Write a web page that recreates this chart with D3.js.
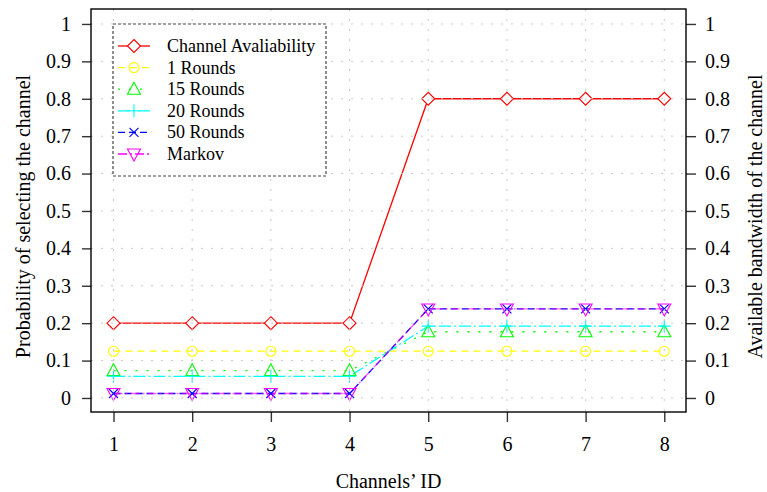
<!DOCTYPE html>
<html>
<head>
<meta charset="utf-8">
<script src="https://cdn.jsdelivr.net/npm/d3@7"></script>
<style>
  html, body { margin: 0; padding: 0; background: #fff; }
  svg, svg text { font-family: "Liberation Serif", "Times New Roman", Times, "DejaVu Serif", serif; }
  svg { display: block; }
</style>
</head>
<body>
<svg id="chart" width="767" height="492"></svg>
<script>
// Channel IDs on the x axis
const channels = [1, 2, 3, 4, 5, 6, 7, 8];

// Available bandwidth of each channel
const availability = [0.2, 0.2, 0.2, 0.2, 0.8, 0.8, 0.8, 0.8];

// Selection probabilities after a number of learning rounds
const rounds1  = [0.125, 0.125, 0.125, 0.125, 0.125, 0.125, 0.125, 0.125];
const rounds15 = [0.073, 0.073, 0.073, 0.073, 0.177, 0.177, 0.177, 0.177];
const rounds20 = [0.058, 0.058, 0.058, 0.058, 0.192, 0.192, 0.192, 0.192];
const rounds50 = [0.012, 0.012, 0.012, 0.012, 0.238, 0.238, 0.238, 0.238];
const markov   = [0.012, 0.012, 0.012, 0.012, 0.238, 0.238, 0.238, 0.238];

// Tick values shared by both y axes
const yTicks = [0, 0.1, 0.2, 0.3, 0.4, 0.5, 0.6, 0.7, 0.8, 0.9, 1];
const yTickLabels = ["0", "0.1", "0.2", "0.3", "0.4", "0.5", "0.6", "0.7", "0.8", "0.9", "1"];

const seriesNames = ["Channel Avaliability", "1 Rounds", "15 Rounds", "20 Rounds", "50 Rounds", "Markov"];

const series = [
  { name: seriesNames[0], values: availability, color: "#ff0000", dash: null,       marker: "diamond",      opacity: 1 },
  { name: seriesNames[1], values: rounds1,      color: "#ffff00", dash: "7,5",      marker: "circle",       opacity: 1 },
  { name: seriesNames[2], values: rounds15,     color: "#00ff00", dash: "2,9",      marker: "triangleUp",   opacity: 1 },
  { name: seriesNames[3], values: rounds20,     color: "#00ffff", dash: "12,3,2,3", marker: "plus",         opacity: 1 },
  { name: seriesNames[4], values: rounds50,     color: "#0000ff", dash: "7,4",      marker: "cross",        opacity: 1 },
  { name: seriesNames[5], values: markov,       color: "#ff00ff", dash: "9,3,2,3",  marker: "triangleDown", opacity: 0.65 }
];

const serif = "'Liberation Serif', 'Times New Roman', Times, 'DejaVu Serif', serif";
const svg = d3.select("#chart");
const plotLeft = 91, plotRight = 686, plotTop = 9, plotBottom = 412;

const x = d3.scaleLinear().domain([0.714, 8.276]).range([plotLeft, plotRight]);
const y = d3.scaleLinear().domain([-0.0375, 1.04]).range([plotBottom, plotTop]);

// Marker shapes
function drawMarker(g, type, cx, cy, color) {
  const s = g.append("g").attr("transform", `translate(${cx},${cy})`)
    .attr("fill", "none").attr("stroke", color).attr("stroke-width", 1.1);
  if (type === "diamond") {
    s.append("path").attr("d", "M0,-6.5L6.5,0L0,6.5L-6.5,0Z").attr("fill", "#fff");
  } else if (type === "circle") {
    s.append("circle").attr("r", 5);
  } else if (type === "triangleUp") {
    s.append("path").attr("d", "M0,-7L6.5,5L-6.5,5Z");
  } else if (type === "plus") {
    s.append("path").attr("d", "M-6.5,0H6.5M0,-6.5V6.5");
  } else if (type === "cross") {
    s.append("path").attr("d", "M-4.5,-4.5L4.5,4.5M-4.5,4.5L4.5,-4.5");
  } else if (type === "triangleDown") {
    s.append("path").attr("d", "M0,7L6.5,-5L-6.5,-5Z");
  }
}

// Data lines and markers
const line = d3.line().x((d, i) => x(channels[i])).y(d => y(d));
const plot = svg.append("g");
series.forEach(s => {
  plot.append("path")
    .datum(s.values)
    .attr("d", line)
    .attr("fill", "none")
    .attr("stroke", s.color)
    .attr("stroke-opacity", s.opacity)
    .attr("stroke-width", 1.3)
    .attr("stroke-dasharray", s.dash);
});
series.forEach(s => {
  s.values.forEach((v, i) => drawMarker(plot, s.marker, x(channels[i]), y(v), s.color));
});

// Dotted grid
const grid = svg.append("g").attr("stroke", "#c8c8c8").attr("stroke-width", 1)
  .attr("stroke-dasharray", "2,8");
yTicks.forEach(t => {
  grid.append("line").attr("x1", plotLeft).attr("x2", plotRight).attr("y1", y(t)).attr("y2", y(t));
});
channels.forEach(c => {
  grid.append("line").attr("x1", x(c)).attr("x2", x(c)).attr("y1", plotTop).attr("y2", plotBottom);
});

// Axes
const fmt = (d, i) => yTickLabels[i];
const yLeft = d3.axisLeft(y).tickValues(yTicks).tickFormat(fmt).tickSize(9).tickPadding(11);
const yRight = d3.axisRight(y).tickValues(yTicks).tickFormat(fmt).tickSize(10).tickPadding(9);
const xBottom = d3.axisBottom(x).tickValues(channels).tickFormat(d3.format("d")).tickSize(10).tickPadding(15);

function styleAxis(g) {
  g.attr("font-family", serif).attr("font-size", 20);
  g.select(".domain").remove();
  g.selectAll(".tick line").attr("stroke", "#333").attr("stroke-width", 1.4);
  g.selectAll(".tick text").attr("fill", "#000").style("font-size", "20px").style("font-family", serif);
}
svg.append("g").attr("transform", `translate(${plotLeft},0)`).call(yLeft).call(styleAxis);
svg.append("g").attr("transform", `translate(${plotRight},0)`).call(yRight).call(styleAxis);
svg.append("g").attr("transform", `translate(0,${plotBottom})`).call(xBottom).call(styleAxis);

// Plot frame
svg.append("rect").attr("x", plotLeft).attr("y", plotTop)
  .attr("width", plotRight - plotLeft).attr("height", plotBottom - plotTop)
  .attr("fill", "none").attr("stroke", "#000").attr("stroke-width", 1.4);

// Axis titles
const midY = (plotTop + plotBottom) / 2;
svg.append("text").attr("x", (plotLeft + plotRight) / 2).attr("y", 488).attr("text-anchor", "middle")
  .style("font-family", serif).style("font-size", "20px").text("Channels’ ID");
svg.append("text").attr("transform", `translate(30,${midY + 6}) rotate(-90)`)
  .attr("text-anchor", "middle").style("font-family", serif).style("font-size", "20px")
  .text("Probability of selecting the channel");
svg.append("text").attr("transform", `translate(762,${midY + 6}) rotate(-90)`)
  .attr("text-anchor", "middle").style("font-family", serif).style("font-size", "20px")
  .text("Available bandwidth of the channel");

// Legend
const legend = svg.append("g");
legend.append("rect").attr("x", 113).attr("y", 24).attr("width", 213).attr("height", 152)
  .attr("fill", "#fff").attr("stroke", "#444").attr("stroke-width", 1.2).attr("stroke-dasharray", "3,2");
series.forEach((s, i) => {
  const ly = 46 + i * 21.6;
  legend.append("line").attr("x1", 118).attr("x2", 150).attr("y1", ly).attr("y2", ly)
    .attr("stroke", s.color).attr("stroke-width", 1.3).attr("stroke-dasharray", s.dash);
  drawMarker(legend, s.marker, 134, ly, s.color);
  legend.append("text").attr("x", 167).attr("y", ly + 6)
    .style("font-family", serif).style("font-size", "18px").text(s.name);
});
</script>
</body>
</html>
